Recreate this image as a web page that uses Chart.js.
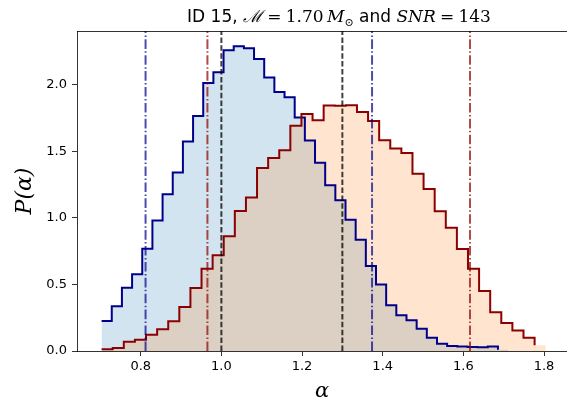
<!DOCTYPE html>
<html>
<head>
<meta charset="utf-8">
<script src="https://cdn.jsdelivr.net/npm/chart.js@4"></script>
<style>
  html, body { margin: 0; padding: 0; background: #fff; }
  #wrap { width: 567px; height: 402px; }
</style>
</head>
<body>
<div id="wrap"><canvas id="histChart" width="567" height="402"></canvas></div>
<script>
// ヒストグラム（40ビン）
const blueStart = 0.703;
const blueWidth = 0.0252;
const blueValues = [
  0.226, 0.336, 0.476, 0.576, 0.769, 0.980, 1.178, 1.341, 1.574, 1.767,
  2.015, 2.095, 2.260, 2.290, 2.275, 2.195, 2.055, 1.947, 1.907, 1.754,
  1.582, 1.415, 1.246, 1.133, 0.987, 0.837, 0.639, 0.499, 0.343, 0.268,
  0.231, 0.168, 0.100, 0.055, 0.038, 0.033, 0.030, 0.028, 0.033, 0.010
];

const redStart = 0.703;
const redWidth = 0.02753;
const redValues = [
  0.013, 0.022, 0.070, 0.085, 0.122, 0.163, 0.223, 0.331, 0.474, 0.619,
  0.719, 0.862, 1.053, 1.153, 1.376, 1.451, 1.509, 1.692, 1.782, 1.734,
  1.845, 1.843, 1.847, 1.797, 1.728, 1.584, 1.521, 1.489, 1.333, 1.218,
  1.050, 0.927, 0.767, 0.619, 0.451, 0.291, 0.211, 0.155, 0.100, 0.043
];

// 縦線
const blueMarks = [0.812, 1.3736];
const redMarks = [0.9654, 1.6165];
const trueMarks = [1.0, 1.3];

// 軸
const xTicks = [0.8, 1.0, 1.2, 1.4, 1.6, 1.8];
const yTicks = [0.0, 0.5, 1.0, 1.5, 2.0];
const xMin = 0.642, xMax = 1.857;
const yMax = 2.405;

// ステップ線用の点（左端 + 値）。close=true なら右端まで閉じる
function stepPoints(start, width, vals, close) {
  const pts = vals.map((v, i) => ({ x: start + i * width, y: v }));
  if (close) pts.push({ x: start + vals.length * width, y: vals[vals.length - 1] });
  return pts;
}

function vline(x, color, dash, order) {
  return {
    data: [{ x: x, y: 0 }, { x: x, y: yMax }],
    borderColor: color,
    borderWidth: 2,
    borderDash: dash,
    borderCapStyle: "butt",
    pointRadius: 0,
    fill: false,
    order: order
  };
}

const DASHDOT = [9.6, 2.4, 1.5, 2.4];
const DASHED = [5.5, 2.4];

const datasets = [
  {
    data: stepPoints(blueStart, blueWidth, blueValues, true),
    stepped: "before",
    borderWidth: 0,
    pointRadius: 0,
    backgroundColor: "rgba(31,119,180,0.2)",
    fill: "origin",
    order: 10
  },
  {
    data: stepPoints(redStart, redWidth, redValues, true),
    stepped: "before",
    borderWidth: 0,
    pointRadius: 0,
    backgroundColor: "rgba(255,127,14,0.2)",
    fill: "origin",
    order: 9
  },
  {
    data: stepPoints(blueStart, blueWidth, blueValues, false),
    stepped: "before",
    borderColor: "#00008b",
    borderWidth: 2,
    borderJoinStyle: "miter",
    pointRadius: 0,
    fill: false,
    order: 8
  },
  {
    data: stepPoints(redStart, redWidth, redValues, false),
    stepped: "before",
    borderColor: "#8b0000",
    borderWidth: 2,
    borderJoinStyle: "miter",
    pointRadius: 0,
    fill: false,
    order: 7
  }
];
blueMarks.forEach(v => datasets.push(vline(v, "rgba(0,0,139,0.7)", DASHDOT, 3)));
redMarks.forEach(v => datasets.push(vline(v, "rgba(139,0,0,0.7)", DASHDOT, 2)));
trueMarks.forEach(v => datasets.push(vline(v, "rgba(0,0,0,0.75)", DASHED, 1)));

// タイトル（数式部分はフォントを切り替えて描く）
const titleParts = [
  { t: "ID 15, ", f: '17px "DejaVu Sans"' },
  { t: "\u2133", f: 'italic 17px "DejaVu Serif"' },
  { t: "\u2005=\u2005", f: '17px "DejaVu Serif"' },
  { t: "1.70", f: '17px "DejaVu Serif"' },
  { t: "\u2009", f: '17px "DejaVu Serif"' },
  { t: "M", f: 'italic 17px "DejaVu Serif"' },
  { t: "\u2299", f: '11px "DejaVu Serif"', dy: 4 },
  { t: " and ", f: '17px "DejaVu Sans"' },
  { t: "SNR", f: 'italic 17px "DejaVu Serif"' },
  { t: "\u2005=\u2005", f: '17px "DejaVu Serif"' },
  { t: "143", f: '17px "DejaVu Serif"' }
];
const titleCenterX = 339;

const framePlugin = {
  id: "frame",
  afterDraw(chart) {
    const { ctx, chartArea } = chart;
    ctx.save();
    // 上枠
    ctx.strokeStyle = "rgba(0,0,0,0.8)";
    ctx.lineWidth = 1;
    ctx.beginPath();
    ctx.moveTo(chartArea.left, chartArea.top + 0.5);
    ctx.lineTo(chartArea.right, chartArea.top + 0.5);
    ctx.stroke();
    // タイトル
    ctx.fillStyle = "#000";
    ctx.textBaseline = "alphabetic";
    let total = 0;
    for (const p of titleParts) { ctx.font = p.f; total += ctx.measureText(p.t).width; }
    let x = titleCenterX - total / 2;
    const y = 22;
    for (const p of titleParts) {
      ctx.font = p.f;
      ctx.fillText(p.t, x, y + (p.dy || 0));
      x += ctx.measureText(p.t).width;
    }
    ctx.restore();
  }
};

const ctx = document.getElementById("histChart").getContext("2d");
const chart = new Chart(ctx, {
  type: "line",
  data: { datasets: datasets },
  options: {
    responsive: false,
    devicePixelRatio: 1,
    animation: false,
    layout: { padding: { top: 31, right: -2, left: 0, bottom: 0 } },
    plugins: {
      legend: { display: false },
      tooltip: { enabled: false }
    },
    scales: {
      x: {
        type: "linear",
        min: xMin,
        max: xMax,
        afterBuildTicks: (s) => { s.ticks = xTicks.map(v => ({ value: v })); },
        afterFit: (s) => { s.height = 51; },
        grid: { drawOnChartArea: false, drawTicks: true, tickLength: 5, color: "rgba(0,0,0,0.8)" },
        border: { display: true, color: "rgba(0,0,0,0.8)", width: 1 },
        ticks: {
          color: "#000",
          padding: 3,
          maxRotation: 0,
          font: { family: "DejaVu Sans", size: 13 },
          callback: (v) => v.toFixed(1)
        },
        title: {
          display: true,
          text: "\u03b1",
          color: "#000",
          font: { family: "DejaVu Serif", style: "italic", size: 21, lineHeight: 1 },
          padding: { top: 0, bottom: 0 }
        }
      },
      y: {
        type: "linear",
        min: 0,
        max: yMax,
        afterBuildTicks: (s) => { s.ticks = yTicks.map(v => ({ value: v })); },
        afterFit: (s) => { s.width = 77; },
        grid: { drawOnChartArea: false, drawTicks: true, tickLength: 5, color: "rgba(0,0,0,0.8)" },
        border: { display: true, color: "rgba(0,0,0,0.8)", width: 1 },
        ticks: {
          color: "#000",
          padding: 5,
          font: { family: "DejaVu Sans", size: 13 },
          callback: (v) => v.toFixed(1)
        },
        title: {
          display: true,
          text: "P(\u03b1)",
          color: "#000",
          font: { family: "DejaVu Serif", style: "italic", size: 22, lineHeight: 1.2 },
          padding: { top: 12, bottom: 0 }
        }
      }
    }
  },
  plugins: [framePlugin]
});
</script>
</body>
</html>
